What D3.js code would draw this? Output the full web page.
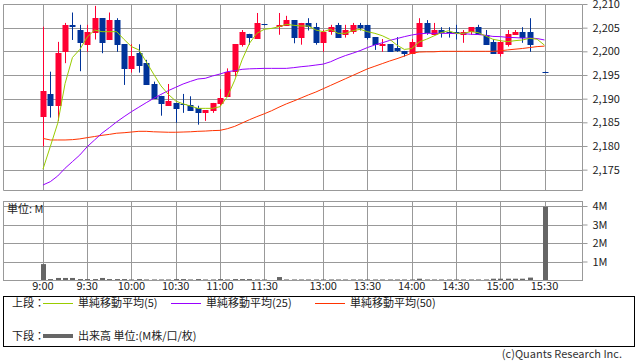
<!DOCTYPE html>
<html lang="ja">
<head>
<meta charset="utf-8">
<title>5分足チャート</title>
<script src="https://cdnjs.cloudflare.com/ajax/libs/d3/7.8.5/d3.min.js"></script>
<style>
  body { margin: 0; background: #fff; }
  svg { display: block; }
  text { font-family: "Noto Sans CJK JP", "Noto Sans", sans-serif; font-size: 11px; fill: #222; }
</style>
</head>
<body>
<script>

// 5分足の時刻（12:25 と 15:25 は約定なし）
var slots = ["9:00","9:05","9:10","9:15","9:20","9:25","9:30","9:35","9:40","9:45","9:50","9:55",
  "10:00","10:05","10:10","10:15","10:20","10:25","10:30","10:35","10:40","10:45","10:50","10:55",
  "11:00","11:05","11:10","11:15","11:20","11:25","11:30",
  "12:25","12:30","12:35","12:40","12:45","12:50","12:55",
  "13:00","13:05","13:10","13:15","13:20","13:25","13:30","13:35","13:40","13:45","13:50","13:55",
  "14:00","14:05","14:10","14:15","14:20","14:25","14:30","14:35","14:40","14:45","14:50","14:55",
  "15:00","15:05","15:10","15:15","15:20","15:25","15:30"];

var timeLabels = ["9:00","9:30","10:00","10:30","11:00","11:30","13:00","13:30","14:00","14:30","15:00","15:30"];
var priceTicks = [2175, 2180, 2185, 2190, 2195, 2200, 2205, 2210];
var volTicks = [1, 2, 3, 4];

var open = [2186.1,2191.0,2188.4,2199.9,2205.6,2204.5,2201.4,2203.9,2207.0,2202.4,2206.6,2201.5,
  2196.3,2199.7,2197.6,2193.1,2190.6,2188.5,2189.1,2188.8,2188.7,2188.1,2187.0,2187.5,
  2188.9,2190.4,2195.5,2201.4,2203.7,2202.7,2205.7,
  null,2205.1,2205.4,2206.6,2202.9,2206.0,2205.1,
  2201.8,2204.1,2205.6,2203.5,2204.1,2205.6,2205.6,2203.0,2201.0,2201.5,2200.6,2200.1,
  2199.5,2201.0,2206.0,2203.5,2204.5,2204.1,2204.1,2203.5,2204.1,2205.1,2203.5,2202.0,
  2199.5,2201.4,2203.5,2204.1,2204.1,null,2195.7];
var high = [2205.2,2195.7,2202.0,2206.0,2208.2,2205.6,2205.6,2209.6,2207.0,2208.2,2207.0,2201.5,
  2201.5,2201.5,2198.2,2193.6,2190.6,2193.1,2189.1,2191.0,2190.5,2188.5,2187.6,2189.1,
  2192.0,2196.4,2201.5,2204.5,2203.7,2208.1,2205.7,
  null,2208.1,2207.5,2206.6,2206.0,2207.0,2206.0,
  2204.5,2205.6,2206.0,2205.6,2206.0,2206.0,2205.6,2203.0,2202.6,2201.5,2203.0,2200.1,
  2202.6,2207.0,2206.6,2206.0,2205.1,2205.1,2205.6,2204.5,2205.1,2205.6,2204.5,2202.6,
  2202.4,2204.5,2204.5,2205.1,2207.0,null,2195.7];
var low = [2179.9,2186.0,2185.3,2197.5,2202.4,2195.8,2199.9,2202.5,2199.6,2202.4,2199.9,2192.9,
  2195.5,2195.5,2193.0,2190.0,2186.4,2188.5,2184.9,2187.0,2187.5,2184.5,2185.3,2187.0,
  2188.4,2190.4,2194.7,2201.0,2201.4,2202.7,2205.5,
  null,2203.5,2205.4,2201.7,2201.4,2204.4,2201.4,
  2199.9,2203.5,2202.9,2202.9,2203.7,2204.4,2202.5,2200.3,2199.9,2199.9,2199.9,2198.9,
  2199.5,2201.0,2203.5,2203.5,2202.9,2202.9,2202.5,2201.8,2203.5,2203.5,2201.4,2199.5,
  2198.9,2201.0,2203.5,2201.8,2199.9,null,2195.6];
var close = [2191.6,2188.5,2199.7,2205.6,2205.1,2201.8,2204.1,2207.0,2201.8,2206.6,2201.4,2196.3,
  2199.0,2197.0,2193.0,2190.0,2188.9,2189.5,2187.9,2188.6,2187.5,2187.0,2187.6,2189.1,
  2190.1,2195.6,2201.5,2204.1,2202.9,2206.0,2205.5,
  null,2205.6,2206.6,2202.9,2206.0,2205.1,2201.8,
  2204.1,2205.1,2202.9,2204.5,2205.6,2204.9,2202.9,2201.4,2201.5,2199.9,2199.9,2199.5,
  2202.0,2206.0,2203.9,2204.5,2203.9,2203.9,2203.9,2204.1,2205.1,2203.5,2201.4,2199.5,
  2202.0,2203.7,2204.1,2202.9,2201.4,null,2195.6];

// 出来高（M株）
var volume = [0.86,0.05,0.11,0.11,0.11,0.05,0.05,0.05,0.11,0.05,0.05,0.05,
  0.03,0.05,0.03,0.03,0.03,0.03,0.05,0.05,0.03,0.05,0.03,0.03,
  0.05,0.03,0.05,0.05,0.05,0.03,0.03,
  0,0.16,0.03,0.03,0.03,0.03,0.03,
  0.03,0.03,0.03,0.03,0.03,0.03,0.03,0.03,0.03,0.03,0.03,0.03,
  0.03,0.07,0.03,0.03,0.03,0.03,0.03,0.03,0.03,0.03,0.03,0.07,
  0.07,0.07,0.07,0.07,0.13,0,3.96];

// 単純移動平均
var ma5 = [2175.1,2179.9,2184.8,2193.2,2198.7,2200.4,2203.0,2204.5,2204.15,2204.15,2204.15,2202.5,
  2201.0,2200.3,2197.8,2195.2,2192.7,2190.9,2189.5,2188.9,2188.45,2187.95,2187.95,2187.95,
  2188.3,2190.4,2193.9,2198.2,2201.7,2203.8,2204.65,
  2204.85,2205.2,2205.7,2205.5,2205.35,2205.35,2204.5,
  2204.15,2204.65,2203.8,2203.8,2204.35,2204.65,2204.15,2203.8,2203.3,2202.55,2201.3,2200.4,
  2200.6,2202.0,2202.55,2203.25,2203.95,2204.35,2203.8,2203.8,2204.15,2203.95,2203.25,2202.55,
  2202.25,2202.05,2202.25,2202.4,2202.75,2202.55,2201.3];
var ma25 = [2171.76,2172.46,2173.66,2175.3,2176.7,2178.1,2179.85,2181.27,2182.7,2183.87,2185.1,2186.2,
  2187.25,2188.2,2189.15,2190.05,2190.9,2191.7,2192.4,2193.1,2193.65,2194.15,2194.3,2194.8,
  2195.2,2195.7,2195.9,2196.2,2196.3,2196.35,2196.4,
  2196.4,2196.4,2196.4,2196.55,2196.75,2196.9,2197.1,
  2197.3,2197.8,2198.5,2199.1,2199.6,2200.15,2200.8,2201.35,2201.8,2202.3,2202.7,2203.1,
  2203.45,2203.7,2203.8,2203.8,2203.8,2203.8,2203.75,2203.75,2203.6,2203.55,2203.4,2203.15,
  2203.1,2202.95,2202.9,2202.8,2202.8,2202.7,2202.4];
var ma50 = [2181.6,2181.27,2181.27,2181.27,2181.34,2181.5,2181.76,2182.0,2182.25,2182.45,2182.7,2182.8,
  2182.95,2183.1,2183.1,2183.0,2182.95,2182.9,2182.9,2182.95,2183.0,2183.1,2183.15,2183.25,
  2183.3,2183.65,2184.15,2184.85,2185.55,2186.2,2186.8,
  2187.45,2188.2,2188.9,2189.5,2190.15,2190.8,2191.4,
  2192.1,2192.8,2193.5,2194.2,2194.9,2195.6,2196.3,2196.85,2197.4,2197.95,2198.45,2199.0,
  2199.6,2199.85,2199.9,2199.9,2200.0,2200.0,2200.0,2200.0,2200.0,2200.0,2200.0,2200.0,
  2200.1,2200.3,2200.45,2200.6,2200.8,2201.0,2201.1];

var W = 638, H = 362;
var left = 3.5, right = 582.5;

var svg = d3.select("body").append("svg")
    .attr("width", W)
    .attr("height", H);

var x = d3.scaleLinear()
    .domain([-5.35, 73.15])
    .range([left, right]);

var y = d3.scaleLinear()
    .domain([2170.7, 2210])
    .range([190, 4]);

var yv = d3.scaleLinear()
    .domain([0, 4])
    .range([280, 206]);

var grid = "#999";

function idx(t) { return slots.indexOf(t); }
function px(v) { return Math.round(v) + 0.5; }

// ---- 上段 ----
var upper = svg.append("g");

upper.selectAll(".hgrid")
    .data(priceTicks)
    .enter().append("line")
    .attr("x1", left).attr("x2", right)
    .attr("y1", function(d) { return px(y(d)); })
    .attr("y2", function(d) { return px(y(d)); })
    .attr("stroke", grid);

upper.selectAll(".vgrid")
    .data(timeLabels)
    .enter().append("line")
    .attr("x1", function(d) { return px(x(idx(d))); })
    .attr("x2", function(d) { return px(x(idx(d))); })
    .attr("y1", px(y(2210))).attr("y2", 190.5)
    .attr("stroke", grid);

upper.append("path")
    .attr("d", "M" + left + "," + px(y(2210)) + "V190.5H" + right + "V" + px(y(2210)))
    .attr("fill", "none")
    .attr("stroke", grid);

var candles = d3.range(slots.length).filter(function(i) { return open[i] != null; });

upper.selectAll(".wick")
    .data(candles)
    .enter().append("line")
    .attr("x1", function(i) { return px(x(i)); })
    .attr("x2", function(i) { return px(x(i)); })
    .attr("y1", function(i) { return y(high[i]); })
    .attr("y2", function(i) { return y(low[i]); })
    .attr("stroke", function(i) { return close[i] > open[i] ? "#ff0033" : "#003399"; });

upper.selectAll(".body")
    .data(candles)
    .enter().append("rect")
    .attr("x", function(i) { return Math.round(x(i)) - 2.5; })
    .attr("width", 6)
    .attr("y", function(i) { return Math.round(y(Math.max(open[i], close[i]))); })
    .attr("height", function(i) { return Math.max(1, Math.round(Math.abs(y(open[i]) - y(close[i])))); })
    .attr("fill", function(i) { return close[i] > open[i] ? "#ff0033" : "#003399"; });

var line = d3.line()
    .x(function(d, i) { return x(i); })
    .y(function(d) { return y(d); });

[[ma50, "#ff3300"], [ma25, "#9900ff"], [ma5, "#99cc00"]].forEach(function(s) {
  upper.append("path")
      .attr("d", line(s[0]))
      .attr("fill", "none")
      .attr("stroke", s[1])
      .attr("stroke-width", 1);
});

upper.append("g")
    .attr("transform", "translate(" + right + ",0)")
    .call(d3.axisRight(y).tickValues(priceTicks).tickSize(5).tickPadding(5).tickFormat(d3.format(",")))
    .call(function(g) {
      g.select(".domain").remove();
      g.selectAll("line").attr("stroke", grid);
      g.selectAll("text").attr("font-family", null).attr("font-size", null).attr("fill", "#222");
    });

// ---- 下段 ----
var lower = svg.append("g");

lower.selectAll(".hgrid")
    .data(volTicks)
    .enter().append("line")
    .attr("x1", left).attr("x2", right)
    .attr("y1", function(d) { return px(yv(d)); })
    .attr("y2", function(d) { return px(yv(d)); })
    .attr("stroke", grid);

lower.selectAll(".vgrid")
    .data(timeLabels)
    .enter().append("line")
    .attr("x1", function(d) { return px(x(idx(d))); })
    .attr("x2", function(d) { return px(x(idx(d))); })
    .attr("y1", 201.5).attr("y2", 280.5)
    .attr("stroke", grid);

lower.append("rect")
    .attr("x", left).attr("y", 201.5)
    .attr("width", right - left).attr("height", 79)
    .attr("fill", "none")
    .attr("stroke", grid);

lower.selectAll(".vol")
    .data(d3.range(slots.length).filter(function(i) { return volume[i] > 0; }))
    .enter().append("rect")
    .attr("x", function(i) { return Math.round(x(i)) - 2; })
    .attr("width", 5)
    .attr("y", function(i) { return yv(volume[i]); })
    .attr("height", function(i) { return yv(0) - yv(volume[i]); })
    .attr("fill", "#666");

lower.append("g")
    .attr("transform", "translate(" + right + ",0)")
    .call(d3.axisRight(yv).tickValues(volTicks).tickSize(5).tickPadding(5).tickFormat(function(d) { return d + "M"; }))
    .call(function(g) {
      g.select(".domain").remove();
      g.selectAll("line").attr("stroke", grid);
      g.selectAll("text").attr("font-family", null).attr("font-size", null).attr("fill", "#222");
    });

lower.append("text")
    .attr("x", 7).attr("y", 213)
    .text("単位: M");

svg.selectAll(".tlabel")
    .data(timeLabels)
    .enter().append("text")
    .attr("x", function(d) { return x(idx(d)); })
    .attr("y", 290)
    .attr("text-anchor", "middle")
    .text(function(d) { return d; });

// ---- 凡例 ----
var leg = svg.append("g");

leg.append("rect")
    .attr("x", 3.5).attr("y", 296.5)
    .attr("width", 631).attr("height", 50)
    .attr("fill", "none")
    .attr("stroke", "#000");

leg.append("text").attr("x", 12).attr("y", 307).text("上段：");
leg.append("text").attr("x", 12).attr("y", 340).text("下段：");

var items = [
  {x: 43, color: "#99cc00", label: "単純移動平均(5)"},
  {x: 171, color: "#9900ff", label: "単純移動平均(25)"},
  {x: 315, color: "#ff3300", label: "単純移動平均(50)"}
];

items.forEach(function(it) {
  leg.append("line")
      .attr("x1", it.x).attr("x2", it.x + 30)
      .attr("y1", 303.5).attr("y2", 303.5)
      .attr("stroke", it.color);
  leg.append("text")
      .attr("x", it.x + 35).attr("y", 307)
      .text(it.label);
});

leg.append("line")
    .attr("x1", 43).attr("x2", 73)
    .attr("y1", 336).attr("y2", 336)
    .attr("stroke", "#666")
    .attr("stroke-width", 4);
leg.append("text").attr("x", 78).attr("y", 340).text("出来高 単位:(M株/口/枚)");

svg.append("text")
    .attr("x", 622).attr("y", 358)
    .attr("text-anchor", "end")
    .style("fill", "#333")
    .text("(c)Quants Research Inc.");

</script>
</body>
</html>
